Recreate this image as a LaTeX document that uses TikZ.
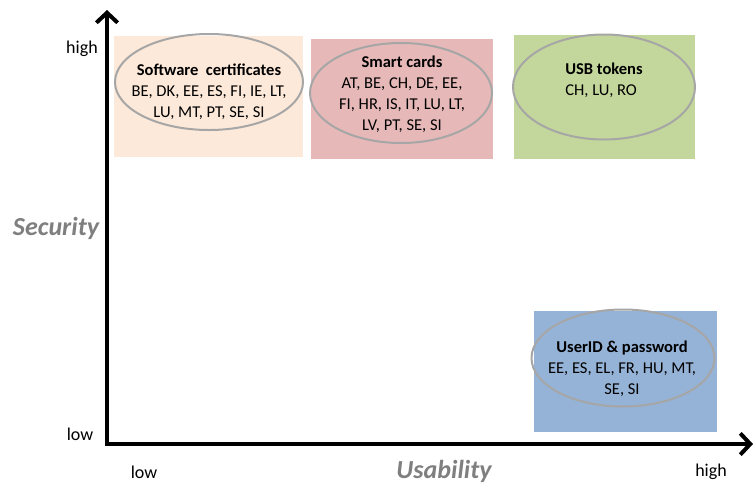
\documentclass[tikz,border=0pt]{standalone}
\usepackage{fontspec}
\setmainfont{Carlito}
\usetikzlibrary{arrows.meta,shapes.geometric}
\definecolor{QuadPeach}{HTML}{FDE9D9}
\definecolor{QuadRose}{HTML}{E6B9B8}
\definecolor{QuadOlive}{HTML}{C3D69B}
\definecolor{QuadSky}{HTML}{95B3D7}
\definecolor{QuadRing}{HTML}{A6A6A6}
\definecolor{QuadAxis}{HTML}{7F7F7F}
\newcommand{\quadtext}{\fontsize{12.4}{15.8}\selectfont}

\begin{document}
\begin{tikzpicture}[
      x=0.75pt, y=-0.75pt,
      panel/.style={
        rectangle,
        draw=none,
        inner sep=0pt
      },
      ring/.style={
        ellipse,
        draw=QuadRing,
        line width=1.5pt,
        inner sep=0pt
      },
      label/.style={
        font=\quadtext,
        align=center,
        inner sep=0pt
      },
      ticklabel/.style={font=\fontsize{13.5}{15}\selectfont, inner sep=0pt},
      axistitle/.style={font=\fontsize{19.5}{22}\selectfont\bfseries\itshape, text=QuadAxis, inner sep=0pt},
      axis/.style={{Straight Barb[length=7.5pt,width=16pt]}-{Straight Barb[length=7.5pt,width=16pt]}, line width=3pt, line join=miter}
    ]
    \useasboundingbox (0,0) rectangle (755,483);

    % quadrant panels
    \node[panel, fill=QuadPeach, minimum width=189*0.75pt, minimum height=121*0.75pt] (softpanel) at (208.5,96.5) {};
    \node[panel, fill=QuadRose, minimum width=182*0.75pt, minimum height=120*0.75pt] (cardpanel) at (402,99) {};
    \node[panel, fill=QuadOlive, minimum width=181*0.75pt, minimum height=124*0.75pt] (usbpanel) at (604.5,97) {};
    \node[panel, fill=QuadSky, minimum width=183*0.75pt, minimum height=121*0.75pt] (pwdpanel) at (625.5,371.5) {};

    % ellipses
    \node[ring, minimum width=188*0.75pt, minimum height=96*0.75pt] (softring) at (209,82) {};
    \node[ring, minimum width=182*0.75pt, minimum height=100*0.75pt] (cardring) at (401,93) {};
    \node[ring, minimum width=182*0.75pt, minimum height=105*0.75pt] (usbring) at (604,87) {};
    \node[ring, minimum width=183*0.75pt, minimum height=97*0.75pt] (pwdring) at (623,358) {};

    \node[label] (soft) at (209,92) {\textbf{Software\ \ certificates}\\BE, DK, EE, ES, FI, IE, LT,\\LU, MT, PT, SE, SI};
    \node[label] (card) at (402,94) {\textbf{Smart cards}\\AT, BE, CH, DE, EE,\\FI, HR, IS, IT, LU, LT,\\LV, PT, SE, SI};
    \node[label, align=left] (usb) at (604,80) {\textbf{USB tokens}\\CH, LU, RO};
    \node[label] (pwd) at (622,369) {\textbf{UserID \& password}\\EE, ES, EL, FR, HU, MT,\\SE, SI};

    % axes
    \coordinate (ytip) at (107,10);
    \coordinate (origin) at (107,444);
    \coordinate (xtip) at (753,444);
    \draw[axis] (ytip) -- (origin) -- (xtip);

    \node[ticklabel] (yhigh) at (82,49) {high};
    \node[ticklabel] (ylow) at (80,434) {low};
    \node[axistitle] (ytitle) at (56,228) {Security};
    \node[ticklabel] (xlow) at (144,472) {low};
    \node[axistitle] (xtitle) at (444,471) {Usability};
    \node[ticklabel] (xhigh) at (711,472) {high};
  \end{tikzpicture}
\end{document}
